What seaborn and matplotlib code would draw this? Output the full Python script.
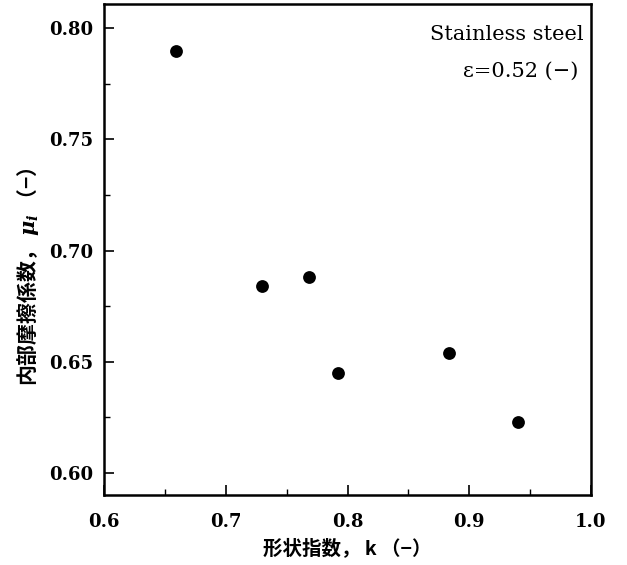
import matplotlib
matplotlib.use("Agg")
import matplotlib.pyplot as plt
import seaborn as sns
import pandas as pd
from matplotlib.ticker import MultipleLocator

# data
shape_index_k = [0.659, 0.730, 0.768, 0.792, 0.883, 0.940]
internal_friction_mu = [0.790, 0.684, 0.688, 0.645, 0.654, 0.623]
x_ticks = [0.6, 0.7, 0.8, 0.9, 1.0]
y_ticks = [0.60, 0.65, 0.70, 0.75, 0.80]
x_label = "形状指数， k （−）"
y_label = "内部摩擦係数， $\\mu_i$ （−）"
note_lines = ["Stainless steel", "ε=0.52 (−)"]

sns.set_style("ticks")
plt.rcParams["font.family"] = ["DejaVu Serif", "Noto Sans CJK JP", "DejaVu Sans"]
plt.rcParams["mathtext.fontset"] = "custom"
plt.rcParams["mathtext.rm"] = "Noto Sans CJK JP:bold"
plt.rcParams["mathtext.it"] = "DejaVu Serif:italic:bold"
for key in ["text.color", "axes.labelcolor", "xtick.color", "ytick.color",
            "axes.edgecolor"]:
    plt.rcParams[key] = "black"

df = pd.DataFrame({"k": shape_index_k, "mu": internal_friction_mu})

fig = plt.figure(figsize=(6.27, 5.65), dpi=100)
ax = fig.add_axes([0.166, 0.124, 0.7765, 0.869])
sns.scatterplot(data=df, x="k", y="mu", ax=ax, color="black", s=85,
                edgecolor="black", linewidth=0, legend=False)

ax.set_xlim(0.6, 1.0)
ax.set_ylim(0.590, 0.811)
ax.set_xticks(x_ticks)
ax.set_xticklabels([f"{v:.1f}" for v in x_ticks])
ax.set_yticks(y_ticks)
ax.set_yticklabels([f"{v:.2f}" for v in y_ticks])
ax.xaxis.set_minor_locator(MultipleLocator(0.05))
ax.yaxis.set_minor_locator(MultipleLocator(0.025))
ax.tick_params(which="major", direction="in", length=7, width=1.2,
               labelsize=13, top=False, right=False, colors="black")
ax.tick_params(axis="x", which="major", pad=13)
ax.tick_params(axis="y", which="major", pad=8)
ax.tick_params(which="minor", direction="in", length=4, width=1.0,
               top=False, right=False, colors="black")
for lab in ax.get_xticklabels() + ax.get_yticklabels():
    lab.set_fontweight("bold")
    lab.set_family("DejaVu Serif")
for sp in ax.spines.values():
    sp.set_visible(True)
    sp.set_linewidth(1.8)
    sp.set_color("black")

ax.set_xlabel(x_label, fontsize=14, fontweight="bold", color="black",
              family=["Noto Sans CJK JP", "DejaVu Sans"], labelpad=5)
ax.set_ylabel(y_label, fontsize=15, fontweight="bold", color="black",
              family=["Noto Sans CJK JP", "DejaVu Sans"], labelpad=6)
ax.yaxis.label.set_y(0.445)

ax.text(0.985, 0.937, note_lines[0], transform=ax.transAxes, ha="right",
        va="center", fontsize=15, family="DejaVu Serif", color="black")
ax.text(0.975, 0.862, note_lines[1], transform=ax.transAxes, ha="right",
        va="center", fontsize=15, family="DejaVu Serif", color="black")

fig.savefig("out.png", dpi=100)
